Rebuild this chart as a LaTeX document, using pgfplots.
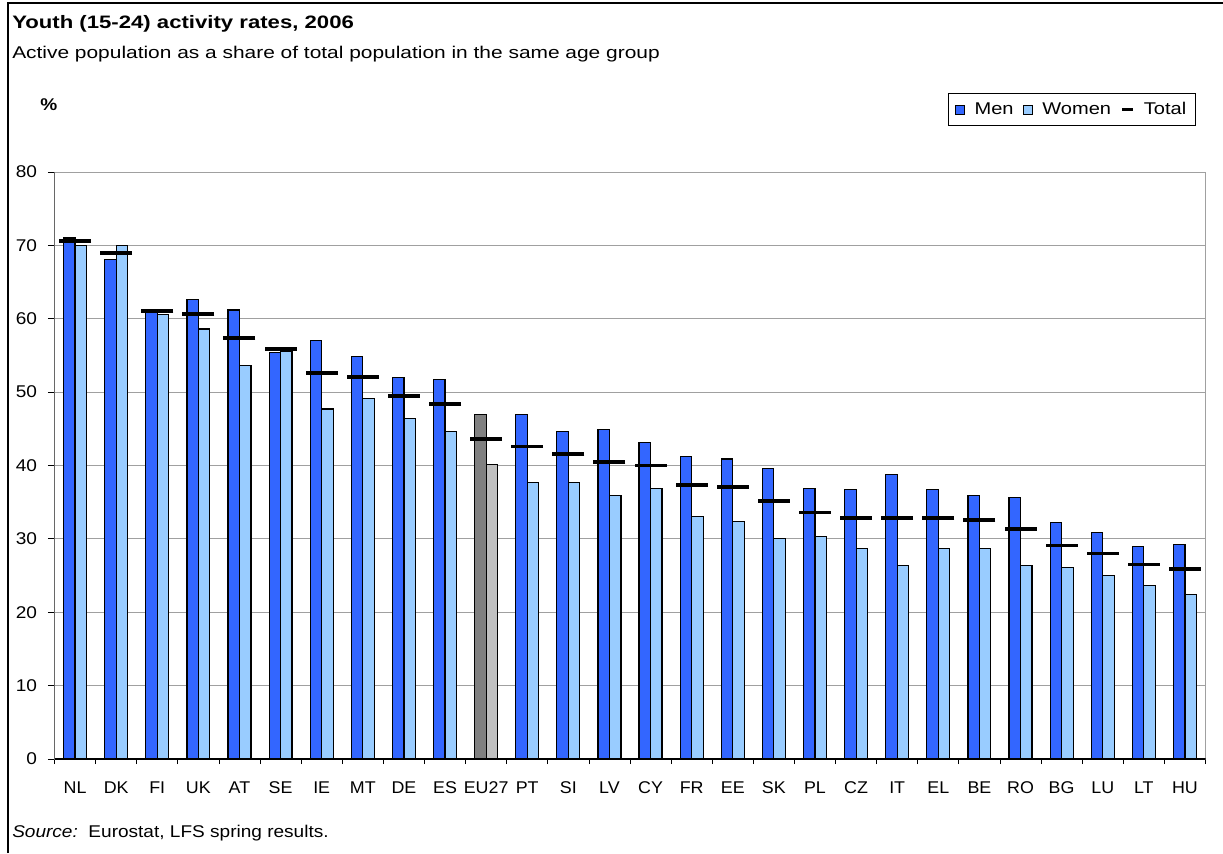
\documentclass[border=0pt]{standalone}
\usepackage{pgfplots}
\pgfplotsset{compat=1.18}
\usepackage{fontspec}
\setmainfont[FakeStretch=1.12]{Liberation Sans}
\newfontfamily\subfont[FakeStretch=1.23]{Liberation Sans}
\newfontfamily\labfont[FakeStretch=1.05]{Liberation Sans}
\newfontfamily\legfont[FakeStretch=1.18]{Liberation Sans}
\newcommand\fs{\fontsize{12.75pt}{15pt}\selectfont}
\definecolor{men}{HTML}{3366FF}
\definecolor{women}{HTML}{99CCFF}
\definecolor{eumen}{HTML}{808080}
\definecolor{euwomen}{HTML}{C0C0C0}
\definecolor{gridc}{HTML}{A0A0A0}
\begin{document}
\fs
\begin{tikzpicture}
\useasboundingbox (0,0) rectangle (917.25pt,-639.75pt);
\draw[line width=1pt] (6pt,-639.75pt) -- (6pt,-2.25pt) -- (917.25pt,-2.25pt);
\node[anchor=base west, inner sep=0pt] at (9pt,-21pt) {\fontsize{13.5pt}{16pt}\subfont\bfseries Youth (15-24) activity rates, 2006};
\node[anchor=base west, inner sep=0pt] at (9pt,-43.5pt) {\fs\subfont Active population as a share of total population in the same age group};
\node[anchor=base west, inner sep=0pt] at (30pt,-82.5pt) {\fs\bfseries\%};
\node[anchor=base west, inner sep=0pt] at (9pt,-627.75pt) {\fs\textit{Source:}\ \ Eurostat, LFS spring results.};
\begin{axis}[
  scale only axis, width=863.25pt, height=440.25pt,
  at={(40.875pt,-569.25pt)}, anchor=south west,
  xmin=-0.5, xmax=27.5, ymin=0, ymax=80,
  ytick={0,10,...,80},
  xtick={0,...,27},
  xticklabels={NL,DK,FI,UK,AT,SE,IE,MT,DE,ES,EU27,PT,SI,LV,CY,FR,EE,SK,PL,CZ,IT,EL,BE,RO,BG,LU,LT,HU},
  minor xtick={-0.5,0.5,...,27.5},
  xtick pos=bottom, ytick pos=left,
  tick align=outside, major tick length=4.9pt, minor tick length=3.75pt,
  major x tick style={draw=none},
  minor x tick style={black, line width=0.6pt},
  major y tick style={black, line width=0.6pt},
  ymajorgrids, grid style={gridc, line width=0.75pt},
  axis line style={gridc, line width=0.75pt},
  xticklabel style={font=\fs\labfont, anchor=north, inner sep=0pt, yshift=-12pt},
  yticklabel style={font=\fs, anchor=east, inner sep=0pt, xshift=-8pt},
  /pgf/number format/assume math mode=true,
  legend columns=3,
  legend cell align=left,
  legend style={at={(axis description cs:0.9918,1.078)}, anchor=south east, draw=black, line width=0.75pt, font=\fs\legfont, inner xsep=5pt, inner ysep=4.5pt,
    /tikz/every odd column/.append style={column sep=5pt},
    /tikz/every even column/.append style={column sep=5pt}},
]
\addplot[ybar, bar width=8.6pt, bar shift=-4.3pt, fill=men, draw=black, line width=0.9pt,
  legend image code/.code={\draw[fill=men, draw=black, line width=0.75pt] (0pt,-3.4pt) rectangle (6.8pt,3.4pt);}]
  coordinates {(0,71.0) (1,68.1) (2,61.0) (3,62.6) (4,61.2) (5,55.4) (6,57.0) (7,54.9) (8,52.0) (9,51.7)
  (11,47.0) (12,44.6) (13,44.9) (14,43.1) (15,41.2) (16,40.9) (17,39.6) (18,36.9) (19,36.7) (20,38.8)
  (21,36.7) (22,35.9) (23,35.6) (24,32.2) (25,30.9) (26,29.0) (27,29.2)};
\addlegendentry{Men}
\addplot[ybar, bar width=8.6pt, bar shift=4.3pt, fill=women, draw=black, line width=0.9pt,
  legend image code/.code={\draw[fill=women, draw=black, line width=0.75pt] (0pt,-3.4pt) rectangle (6.8pt,3.4pt);}]
  coordinates {(0,70.0) (1,70.0) (2,60.6) (3,58.6) (4,53.6) (5,55.6) (6,47.7) (7,49.1) (8,46.4) (9,44.6)
  (11,37.7) (12,37.7) (13,35.9) (14,36.9) (15,33.0) (16,32.4) (17,30.1) (18,30.3) (19,28.7) (20,26.4)
  (21,28.7) (22,28.7) (23,26.4) (24,26.1) (25,25.0) (26,23.7) (27,22.4)};
\addlegendentry{Women}
\addplot[ybar, bar width=8.6pt, bar shift=-4.3pt, fill=eumen, draw=black, line width=0.9pt, forget plot]
  coordinates {(10,47.0)};
\addplot[ybar, bar width=8.6pt, bar shift=4.3pt, fill=euwomen, draw=black, line width=0.9pt, forget plot]
  coordinates {(10,40.1)};
\addplot[only marks, mark=-, mark size=12pt, mark options={line width=2.8pt, black},
  legend image code/.code={\draw[line width=2.6pt, black] (0pt,0pt) -- (8pt,0pt);}]
  coordinates {(0,70.6) (1,69.0) (2,61.1) (3,60.6) (4,57.4) (5,55.9) (6,52.6) (7,52.1) (8,49.5) (9,48.4)
  (10,43.6) (11,42.6) (12,41.6) (13,40.5) (14,40.0) (15,37.3) (16,37.1) (17,35.2) (18,33.6) (19,32.8)
  (20,32.8) (21,32.8) (22,32.6) (23,31.3) (24,29.1) (25,28.0) (26,26.5) (27,25.9)};
\addlegendentry{Total}
\draw[black, line width=0.9pt] (rel axis cs:0,1) -- (rel axis cs:0,0) -- (rel axis cs:1,0);
\end{axis}
\end{tikzpicture}
\end{document}
